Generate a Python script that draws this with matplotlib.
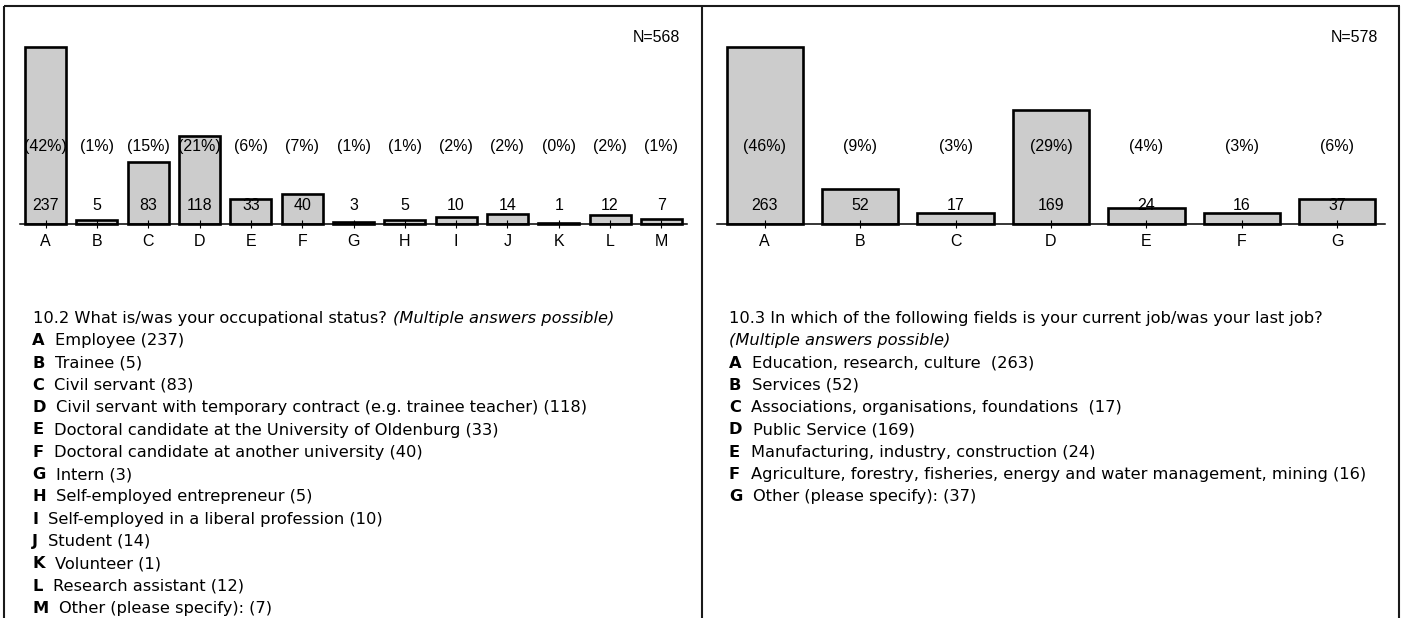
import matplotlib.pyplot as plt

plt.rcParams['font.family'] = ['Liberation Sans', 'DejaVu Sans']

# 10.2 occupational status
occ_letters = list('ABCDEFGHIJKLM')
occ_counts = [237, 5, 83, 118, 33, 40, 3, 5, 10, 14, 1, 12, 7]
occ_pcts = [42, 1, 15, 21, 6, 7, 1, 1, 2, 2, 0, 2, 1]
occ_n = 568
occ_question = '10.2 What is/was your occupational status?'
occ_answers = ['Employee (237)', 'Trainee (5)', 'Civil servant (83)',
               'Civil servant with temporary contract (e.g. trainee teacher) (118)',
               'Doctoral candidate at the University of Oldenburg (33)',
               'Doctoral candidate at another university (40)', 'Intern (3)',
               'Self-employed entrepreneur (5)', 'Self-employed in a liberal profession (10)',
               'Student (14)', 'Volunteer (1)', 'Research assistant (12)',
               'Other (please specify): (7)']

# 10.3 fields of current/last job
field_letters = list('ABCDEFG')
field_counts = [263, 52, 17, 169, 24, 16, 37]
field_pcts = [46, 9, 3, 29, 4, 3, 6]
field_n = 578
field_question = '10.3 In which of the following fields is your current job/was your last job?'
field_answers = ['Education, research, culture  (263)', 'Services (52)',
                 'Associations, organisations, foundations  (17)', 'Public Service (169)',
                 'Manufacturing, industry, construction (24)',
                 'Agriculture, forestry, fisheries, energy and water management, mining (16)',
                 'Other (please specify): (37)']
multi_note = '(Multiple answers possible)'

W, H = 1404, 618
FS = 11.5          # chart labels
DFS = 11.7         # description text
DFONT = ['DejaVu Sans']
fig = plt.figure(figsize=(W / 100, H / 100), dpi=100)

# background axes in pixel coordinates for frame and description text
bg = fig.add_axes([0, 0, 1, 1])
bg.set_xlim(0, W)
bg.set_ylim(H, 0)
bg.axis('off')
for xs, ys in [([4, 1400], [6, 6]), ([4, 4], [6, H]), ([702, 702], [6, H]), ([1399, 1399], [6, H])]:
    bg.plot(xs, ys, color='#1a1a1a', lw=1.5, solid_capstyle='butt')

BASE = 224
TOP = 47


def bar_panel(left, right, letters, counts, pcts, n):
    ax = fig.add_axes([left / W, 1 - BASE / H, (right - left) / W, (BASE - TOP) / H])
    x = list(range(len(counts)))
    ax.bar(x, counts, width=0.8, color='#cccccc', edgecolor='black', linewidth=1.9, clip_on=False)
    ax.set_xlim(-0.5, len(counts) - 0.5)
    ax.set_ylim(0, max(counts))
    ax.set_yticks([])
    ax.set_xticks(x, letters)
    ax.tick_params(axis='x', direction='inout', length=6, width=0.8, pad=4.5, labelsize=FS)
    for s in ['top', 'left', 'right']:
        ax.spines[s].set_visible(False)
    ax.spines['bottom'].set_linewidth(1.1)
    ax.patch.set_visible(False)
    tr = ax.get_xaxis_transform()
    for i in x:
        ax.text(i, (BASE - 150.7) / (BASE - TOP), '(%d%%)' % pcts[i], transform=tr,
                ha='center', va='baseline', fontsize=FS)
        ax.text(i, (BASE - 210) / (BASE - TOP), str(counts[i]), transform=tr,
                ha='center', va='baseline', fontsize=FS)
    bg.text(right - 7, 41.7, 'N=%d' % n, ha='right', va='baseline', fontsize=FS)


def answer_list(x, y, letters, answers):
    for k, (l, a) in enumerate(zip(letters, answers)):
        t = bg.text(x, y + 22.3 * k, l, fontweight='bold', va='baseline', fontsize=DFS, family=DFONT)
        bg.annotate(a, xy=(1, 0), xycoords=t, xytext=(7.5, 0), textcoords='offset points',
                    va='bottom', ha='left', fontsize=DFS, family=DFONT)


bar_panel(20, 687, occ_letters, occ_counts, occ_pcts, occ_n)
bar_panel(717, 1385, field_letters, field_counts, field_pcts, field_n)

# left description
q = bg.text(33, 323, occ_question, va='baseline', fontsize=DFS, family=DFONT)
bg.annotate(multi_note, xy=(1, 0), xycoords=q, xytext=(4.5, 0), textcoords='offset points',
            va='bottom', ha='left', fontsize=DFS, fontstyle='italic', family=DFONT)
answer_list(32, 323 + 22.3, occ_letters, occ_answers)

# right description
bg.text(729, 323, field_question, va='baseline', fontsize=DFS, family=DFONT)
bg.text(729, 323 + 22.3, multi_note, va='baseline', fontsize=DFS, fontstyle='italic', family=DFONT)
answer_list(729, 323 + 2 * 22.3, field_letters, field_answers)

fig.savefig('out.png', dpi=100)
